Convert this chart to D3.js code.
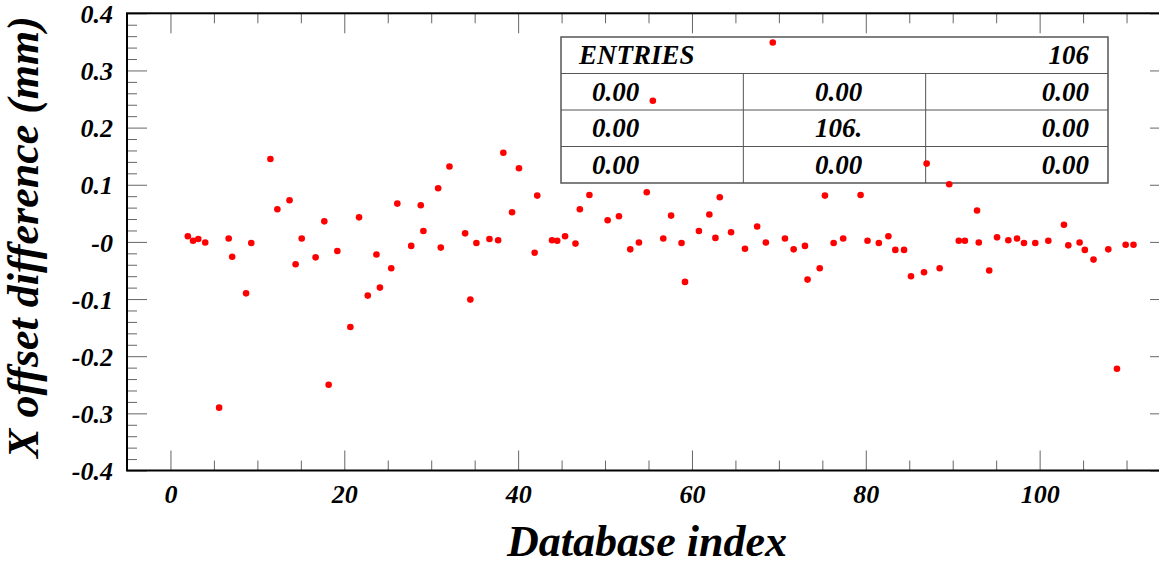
<!DOCTYPE html>
<html>
<head>
<meta charset="utf-8">
<script src="https://cdn.jsdelivr.net/npm/d3@7"></script>
<style>
  html, body { margin: 0; padding: 0; background: #ffffff; }
  svg { display: block; }
  text { font-family: "Liberation Serif", "Times New Roman", serif; font-weight: bold; font-style: italic; }
</style>
</head>
<body>
<script>
// ---- data ----
const dbIndex = [2.0, 2.6, 3.2, 4.0, 5.6, 6.7, 7.1, 8.7, 9.3, 11.5,
  12.3, 13.7, 14.4, 15.1, 16.7, 17.7, 18.2, 19.2, 20.7, 21.7,
  22.7, 23.7, 24.1, 25.4, 26.1, 27.7, 28.8, 29.1, 30.8, 31.1,
  32.1, 33.9, 34.5, 35.2, 36.7, 37.7, 38.3, 39.3, 40.1, 41.9,
  42.2, 43.9, 44.5, 45.4, 46.6, 47.1, 48.2, 50.3, 51.6, 52.9,
  53.9, 54.8, 55.5, 56.7, 57.6, 58.8, 59.2, 60.8, 62.0, 62.7,
  63.2, 64.5, 66.1, 67.5, 68.5, 69.3, 70.7, 71.7, 73.0, 73.3,
  74.7, 75.3, 76.3, 77.4, 79.4, 80.2, 81.5, 82.6, 83.4, 84.4,
  85.2, 86.7, 87.0, 88.5, 89.6, 90.7, 91.4, 92.8, 93.0, 94.2,
  95.1, 96.4, 97.4, 98.2, 99.5, 101.0, 102.8, 103.3, 104.6, 105.2,
  106.2, 107.9, 108.9, 109.9, 110.8];
const xOffsetDiff = [0.010, 0.002, 0.005, -0.001, -0.290, 0.006, -0.026, -0.090, -0.002, 0.145,
  0.057, 0.073, -0.039, 0.006, -0.027, 0.036, -0.250, -0.016, -0.149, 0.043,
  -0.094, -0.022, -0.080, -0.046, 0.067, -0.007, 0.064, 0.019, 0.094, -0.010,
  0.132, 0.015, -0.101, -0.002, 0.005, 0.003, 0.156, 0.052, 0.129, -0.019,
  0.081, 0.003, 0.002, 0.010, -0.003, 0.057, 0.082, 0.038, 0.045, -0.013,
  -0.001, 0.087, 0.247, 0.006, 0.046, -0.002, -0.070, 0.019, 0.048, 0.007,
  0.078, 0.017, -0.012, 0.027, -0.001, 0.349, 0.006, -0.013, -0.007, -0.066,
  -0.046, 0.081, -0.002, 0.006, 0.082, 0.002, -0.002, 0.010, -0.014, -0.014,
  -0.060, -0.053, 0.137, -0.046, 0.101, 0.002, 0.002, 0.055, -0.001, -0.050,
  0.008, 0.003, 0.006, -0.002, -0.002, 0.002, 0.030, -0.006, -0.001, -0.014,
  -0.031, -0.013, -0.222, -0.005, -0.005];

const xTickValues = [0, 20, 40, 60, 80, 100];
const xTickLabels = ["0", "20", "40", "60", "80", "100"];
const yTickValues = [-0.4, -0.3, -0.2, -0.1, 0, 0.1, 0.2, 0.3, 0.4];
const yTickLabels = ["-0.4", "-0.3", "-0.2", "-0.1", "-0", "0.1", "0.2", "0.3", "0.4"];
const xTitle = "Database index";
const yTitle = "X offset difference (mm)";
const statsHeader = ["ENTRIES", "106"];
const statsRows = [
  ["0.00", "0.00", "0.00"],
  ["0.00", "106.", "0.00"],
  ["0.00", "0.00", "0.00"]
];

// ---- layout ----
const W = 1159, H = 566;
const frame = { left: 127, top: 13.3, right: 1170, bottom: 470.5 };
const x = d3.scaleLinear().domain([-5, 115]).range([frame.left, frame.right]);
const y = d3.scaleLinear().domain([-0.4, 0.4]).range([frame.bottom, frame.top]);

const xMinor = d3.range(-5, 116, 5).filter(v => v % 20 !== 0);
const yMinor = d3.range(-20, 21).map(i => +(i * 0.02).toFixed(2)).filter(v => Math.abs(Math.round(v * 10) - v * 10) > 1e-6);

const svg = d3.select("body").append("svg").attr("width", W).attr("height", H);
svg.append("rect").attr("width", W).attr("height", H).attr("fill", "#ffffff");

const tickColor = "#666666";
function styleAxis(g) {
  g.select(".domain").remove();
  g.selectAll(".tick line").attr("stroke", tickColor).attr("stroke-width", 1);
}

// bottom axis
const gB = svg.append("g").attr("transform", `translate(0,${frame.bottom})`);
gB.append("g").call(d3.axisBottom(x).tickValues(xMinor).tickSize(-10).tickFormat("")).call(styleAxis);
const gBM = gB.append("g").call(d3.axisBottom(x).tickValues(xTickValues).tickSize(-20)
  .tickFormat((d, i) => xTickLabels[i])).call(styleAxis);
gBM.selectAll("text").attr("y", 32).attr("dy", 0).attr("font-size", 26).attr("fill", "#000");

// top axis
const gT = svg.append("g").attr("transform", `translate(0,${frame.top})`);
gT.append("g").call(d3.axisTop(x).tickValues(xMinor).tickSize(-10).tickFormat("")).call(styleAxis);
gT.append("g").call(d3.axisTop(x).tickValues(xTickValues).tickSize(-20).tickFormat("")).call(styleAxis);

// left axis
const gL = svg.append("g").attr("transform", `translate(${frame.left},0)`);
gL.append("g").call(d3.axisLeft(y).tickValues(yMinor).tickSize(-10).tickFormat("")).call(styleAxis);
const gLM = gL.append("g").call(d3.axisLeft(y).tickValues(yTickValues).tickSize(-20).tickPadding(14)
  .tickFormat((d, i) => yTickLabels[i])).call(styleAxis);
gLM.selectAll("text").attr("dy", "0.35em").attr("font-size", 26).attr("fill", "#000");

// right axis
const gR = svg.append("g").attr("transform", `translate(${frame.right},0)`);
gR.append("g").call(d3.axisRight(y).tickValues(yMinor).tickSize(-10).tickFormat("")).call(styleAxis);
gR.append("g").call(d3.axisRight(y).tickValues(yTickValues).tickSize(-20).tickFormat("")).call(styleAxis);

// frame
svg.append("rect")
  .attr("x", frame.left).attr("y", frame.top)
  .attr("width", frame.right - frame.left).attr("height", frame.bottom - frame.top)
  .attr("fill", "none").attr("stroke", "#000").attr("stroke-width", 2);

// stats box
const box = { left: 561, top: 37, width: 547, rowH: 36.5 };
const colW = box.width / 3;
const sb = svg.append("g");
sb.append("rect").attr("x", box.left).attr("y", box.top)
  .attr("width", box.width).attr("height", box.rowH * 4)
  .attr("fill", "#ffffff").attr("stroke", "#555").attr("stroke-width", 1.5);
for (let r = 1; r < 4; r++) {
  sb.append("line").attr("x1", box.left).attr("x2", box.left + box.width)
    .attr("y1", box.top + r * box.rowH).attr("y2", box.top + r * box.rowH)
    .attr("stroke", "#555").attr("stroke-width", 1);
}
for (let c = 1; c < 3; c++) {
  sb.append("line").attr("x1", box.left + c * colW).attr("x2", box.left + c * colW)
    .attr("y1", box.top + box.rowH).attr("y2", box.top + 4 * box.rowH)
    .attr("stroke", "#555").attr("stroke-width", 1);
}
sb.append("text").attr("x", box.left + 18).attr("y", box.top + box.rowH - 9.5)
  .attr("font-size", 27).text(statsHeader[0]);
sb.append("text").attr("x", box.left + box.width - 19).attr("y", box.top + box.rowH - 9.5)
  .attr("text-anchor", "end").attr("font-size", 27).text(statsHeader[1]);
statsRows.forEach((row, r) => {
  const by = box.top + (r + 2) * box.rowH - 9.5;
  sb.append("text").attr("x", box.left + 31).attr("y", by).attr("font-size", 27).text(row[0]);
  sb.append("text").attr("x", box.left + 1.5 * colW + 4).attr("y", by).attr("text-anchor", "middle")
    .attr("font-size", 27).text(row[1]);
  sb.append("text").attr("x", box.left + box.width - 19).attr("y", by).attr("text-anchor", "end")
    .attr("font-size", 27).text(row[2]);
});

// points
const pts = dbIndex.map((d, i) => ({ xi: d, v: xOffsetDiff[i] }));
svg.append("g").selectAll("circle").data(pts).join("circle")
  .attr("cx", d => x(d.xi)).attr("cy", d => y(d.v)).attr("r", 3.3)
  .attr("fill", "#ff0000");

// titles
svg.append("text").attr("x", 647).attr("y", 556).attr("text-anchor", "middle")
  .attr("font-size", 44).attr("fill", "#000").text(xTitle);
svg.append("text").attr("transform", "translate(38,237) rotate(-90)").attr("text-anchor", "middle")
  .attr("font-size", 44).attr("fill", "#000").text(yTitle);
</script>
</body>
</html>
